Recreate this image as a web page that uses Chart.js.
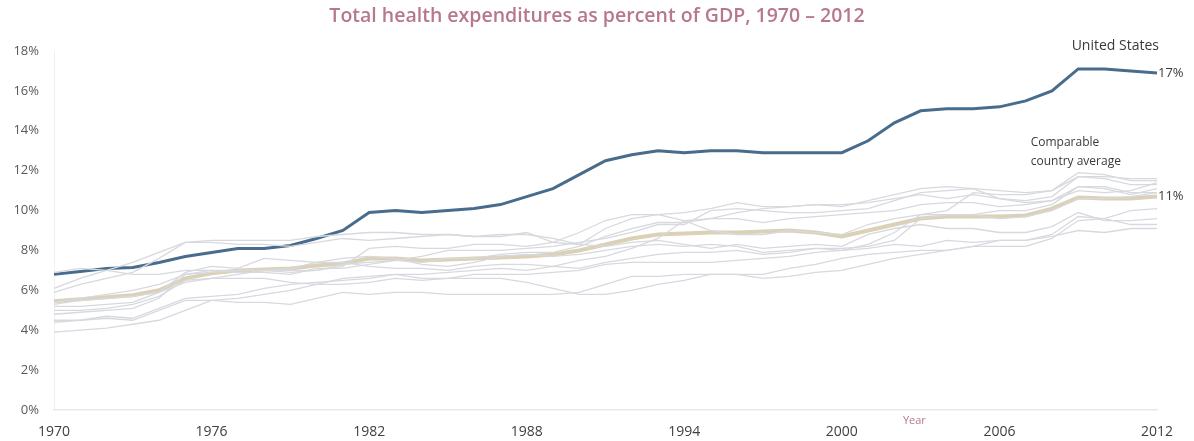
<!DOCTYPE html>
<html>
<head>
<meta charset="utf-8">
<script src="https://cdn.jsdelivr.net/npm/chart.js@4"></script>
<style>
  html, body { margin: 0; padding: 0; background: #fff; }
  #wrap { width: 1194px; height: 441px; position: relative; }
</style>
</head>
<body>
<div id="wrap"><canvas id="lines"></canvas></div>
<script>
const years = []
for (let y = 1970; y <= 2012; y++) years.push(y)

const yTicks = [0, 2, 4, 6, 8, 10, 12, 14, 16, 18]

const unitedStates = [6.8, 6.95, 7.1, 7.15, 7.4, 7.7, 7.9, 8.1, 8.1, 8.25,
  8.6, 9.0, 9.9, 10.0, 9.9, 10.0, 10.1, 10.3, 10.7, 11.1,
  11.8, 12.5, 12.8, 13.0, 12.9, 13.0, 13.0, 12.9, 12.9, 12.9,
  12.9, 13.5, 14.4, 15.0, 15.1, 15.1, 15.2, 15.5, 16.0, 17.1,
  17.1, 17.0, 16.9]

const comparableAvg = [5.45, 5.55, 5.65, 5.75, 6.0, 6.6, 6.85, 7.0, 7.05, 7.1,
  7.25, 7.35, 7.6, 7.6, 7.5, 7.55, 7.6, 7.65, 7.7, 7.8,
  8.0, 8.3, 8.6, 8.8, 8.85, 8.9, 8.9, 8.95, 9.0, 8.9,
  8.7, 9.0, 9.3, 9.6, 9.7, 9.7, 9.7, 9.75, 10.1, 10.65,
  10.6, 10.6, 10.7]

// individual comparable countries (thin grey lines)
const country1 = [6.1, 6.6, 7.0, 7.4, 7.9, 8.4, 8.5, 8.5, 8.5, 8.5,
  8.7, 8.8, 8.9, 8.9, 8.8, 8.8, 8.7, 8.8, 8.8, 8.6,
  8.3, 8.2, 8.4, 8.5, 8.3, 8.1, 8.3, 8.1, 8.2, 8.3,
  8.2, 8.8, 9.1, 9.3, 9.1, 9.1, 8.9, 8.9, 9.2, 9.9,
  9.5, 9.5, 9.6]
const country2 = [6.9, 7.1, 7.0, 6.8, 6.8, 7.0, 7.0, 7.0, 7.0, 6.9,
  7.0, 7.2, 8.1, 8.2, 8.1, 8.1, 8.3, 8.3, 8.2, 8.4,
  8.9, 9.5, 9.8, 9.8, 9.5, 9.0, 8.8, 8.8, 9.0, 8.9,
  8.8, 9.3, 9.6, 9.8, 9.8, 9.8, 10.0, 10.0, 10.3, 11.2,
  11.2, 10.9, 10.9]
const country3 = [5.4, 5.6, 5.8, 6.0, 6.3, 6.8, 7.0, 6.9, 6.9, 6.8,
  7.1, 7.1, 7.3, 7.5, 7.4, 7.6, 7.6, 7.8, 7.9, 7.9,
  8.2, 8.7, 9.1, 9.4, 9.4, 9.6, 9.9, 10.1, 10.2, 10.3,
  10.2, 10.5, 10.8, 11.1, 11.2, 11.1, 10.6, 10.4, 10.5, 11.0,
  10.9, 11.0, 11.4]
const country4 = [5.9, 6.3, 6.6, 6.9, 7.6, 8.4, 8.4, 8.3, 8.3, 8.2,
  8.4, 8.6, 8.5, 8.6, 8.7, 8.8, 8.7, 8.7, 8.9, 8.4,
  8.3, 9.1, 9.6, 9.8, 9.9, 10.1, 10.4, 10.2, 10.2, 10.3,
  10.3, 10.4, 10.6, 10.8, 10.6, 10.8, 10.6, 10.5, 10.7, 11.7,
  11.6, 11.3, 11.3]
const country5 = [5.3, 5.5, 5.6, 5.7, 5.9, 6.4, 6.6, 6.8, 7.0, 7.0,
  7.0, 7.3, 7.4, 7.5, 7.7, 8.0, 8.0, 8.0, 8.1, 8.2,
  8.4, 8.6, 8.9, 9.3, 9.3, 10.0, 10.1, 10.0, 9.9, 9.9,
  10.0, 10.1, 10.5, 10.9, 11.0, 11.1, 11.0, 10.9, 11.0, 11.7,
  11.7, 11.6, 11.6]
const country6 = [4.8, 4.9, 5.0, 5.1, 5.6, 6.8, 6.9, 7.0, 7.0, 7.1,
  7.4, 7.6, 7.7, 7.6, 7.3, 7.2, 7.4, 7.7, 7.8, 7.7,
  7.8, 8.0, 8.2, 8.3, 8.2, 8.3, 8.2, 7.9, 8.0, 8.1,
  8.0, 8.3, 8.9, 9.8, 10.0, 10.9, 10.8, 10.8, 11.0, 11.9,
  11.8, 11.5, 11.5]
const country7 = [5.2, 5.2, 5.3, 5.4, 5.9, 6.9, 7.2, 7.1, 7.6, 7.5,
  7.4, 7.4, 7.2, 7.1, 7.1, 7.0, 7.2, 7.3, 7.3, 7.2,
  7.5, 7.7, 8.1, 8.6, 9.5, 9.6, 9.6, 9.4, 9.6, 9.7,
  9.8, 9.9, 10.0, 10.3, 10.4, 10.4, 10.2, 10.3, 10.5, 11.2,
  11.1, 10.8, 11.1]
const country8 = [3.9, 4.0, 4.1, 4.3, 4.5, 5.0, 5.5, 5.6, 5.8, 6.0,
  6.3, 6.6, 6.7, 6.8, 6.8, 6.9, 7.0, 7.1, 7.0, 7.2,
  7.1, 7.4, 7.6, 7.8, 7.9, 7.9, 8.0, 7.8, 7.9, 8.1,
  8.1, 8.2, 8.5, 9.6, 9.8, 9.8, 9.6, 9.7, 10.0, 10.6,
  10.6, 10.7, 10.9]
const country9 = [4.5, 4.5, 4.6, 4.5, 5.0, 5.5, 5.5, 5.4, 5.4, 5.3,
  5.6, 5.9, 5.8, 5.9, 5.9, 5.8, 5.8, 5.8, 5.8, 5.8,
  5.9, 6.3, 6.7, 6.7, 6.8, 6.8, 6.8, 6.6, 6.7, 6.9,
  7.0, 7.3, 7.6, 7.8, 8.0, 8.2, 8.5, 8.5, 8.8, 9.7,
  9.6, 9.3, 9.3]
const country10 = [4.4, 4.5, 4.7, 4.6, 5.1, 5.6, 5.7, 5.8, 6.1, 6.3,
  6.4, 6.5, 6.6, 6.8, 6.6, 6.6, 6.6, 6.6, 6.4, 6.1,
  5.8, 5.8, 6.0, 6.3, 6.5, 6.8, 6.8, 6.8, 7.1, 7.3,
  7.6, 7.8, 7.9, 8.0, 8.0, 8.2, 8.2, 8.2, 8.6, 9.5,
  9.6, 10.0, 10.1]
const country11 = [5.0, 5.0, 5.1, 5.3, 5.7, 6.5, 6.6, 6.6, 6.6, 6.4,
  6.3, 6.3, 6.4, 6.6, 6.5, 6.6, 6.8, 6.8, 6.8, 6.9,
  7.0, 7.3, 7.4, 7.4, 7.4, 7.4, 7.5, 7.6, 7.7, 7.9,
  8.0, 8.1, 8.3, 8.2, 8.5, 8.4, 8.5, 8.5, 8.7, 9.0,
  8.9, 9.1, 9.1]

const countries = [country1, country2, country3, country4, country5, country6,
  country7, country8, country9, country10, country11]

const titleText = 'Total health expenditures as percent of GDP, 1970 \u2013 2012'
const mauve = '#b7788f'
const font = 'Open Sans'

const datasets = []
countries.forEach(function (c) {
  datasets.push({
    data: c,
    borderColor: '#d7d9df',
    borderWidth: 1.3,
    pointRadius: 0,
    tension: 0
  })
})
datasets.push({
  data: comparableAvg,
  borderColor: '#dad1b7',
  borderWidth: 4,
  pointRadius: 0
})
datasets.push({
  data: unitedStates,
  borderColor: '#486c8c',
  borderWidth: 3,
  pointRadius: 0
})

// title, end labels and notes; the notes are placed through the scales
const notes = {
  id: 'notes',
  afterDatasetsDraw(chart) {
    const ctx = chart.ctx
    const x = chart.scales.x
    const y = chart.scales.y
    const last = years.length - 1
    const xEnd = x.getPixelForValue(last)
    ctx.save()
    ctx.textBaseline = 'middle'

    ctx.fillStyle = mauve
    ctx.font = '600 19.5px "' + font + '"'
    ctx.textAlign = 'center'
    ctx.fillText(titleText, chart.width / 2, 16)

    ctx.fillStyle = '#3a3a3a'
    ctx.font = '14px "' + font + '"'
    ctx.textAlign = 'right'
    ctx.fillText('United States', xEnd + 2, y.getPixelForValue(18.25))
    ctx.font = '13px "' + font + '"'
    ctx.textAlign = 'left'
    ctx.fillText('17%', xEnd + 1, y.getPixelForValue(unitedStates[last]))
    ctx.fillText('11%', xEnd + 1, y.getPixelForValue(comparableAvg[last]))
    const xc = x.getPixelForValue(years.indexOf(2007)) + 5
    ctx.font = '12px "' + font + '"'
    ctx.fillText('Comparable', xc, y.getPixelForValue(13.4))
    ctx.fillText('country average', xc, y.getPixelForValue(12.45))

    ctx.fillStyle = mauve
    ctx.font = '11px "' + font + '"'
    ctx.textAlign = 'center'
    ctx.fillText('Year', x.getPixelForValue(years.indexOf(2002)) + 20, chart.chartArea.bottom + 11)
    ctx.restore()
  }
}

const lineCtx = document.getElementById('lines')
window.myLine = new Chart(lineCtx, {
  type: 'line',
  data: { labels: years, datasets: datasets },
  plugins: [notes],
  options: {
    responsive: true,
    maintainAspectRatio: false,
    animation: false,
    layout: { padding: { left: 0, right: 37, top: 51, bottom: 0 } },
    plugins: {
      legend: { display: false },
      tooltip: { enabled: false },
      title: { display: false }
    },
    scales: {
      x: {
        grid: { display: false },
        border: { color: '#e8e8e8', width: 1.5 },
        afterFit: function (s) { s.height = 31 },
        ticks: {
          autoSkip: false,
          maxRotation: 0,
          padding: 6,
          color: '#404040',
          font: { family: font, size: 14 },
          callback: function (v, i) { return i % 6 === 0 ? years[i] : '' }
        }
      },
      y: {
        min: yTicks[0],
        max: yTicks[yTicks.length - 1],
        grid: { display: false },
        border: { color: '#f0f0f0' },
        afterFit: function (s) { s.width = 54 },
        afterBuildTicks: function (s) { s.ticks = yTicks.map(function (v) { return { value: v } }) },
        ticks: {
          padding: 7,
          color: '#595959',
          font: { family: font, size: 13 },
          callback: function (v) { return v + '%' }
        }
      }
    }
  }
})
</script>
</body>
</html>
